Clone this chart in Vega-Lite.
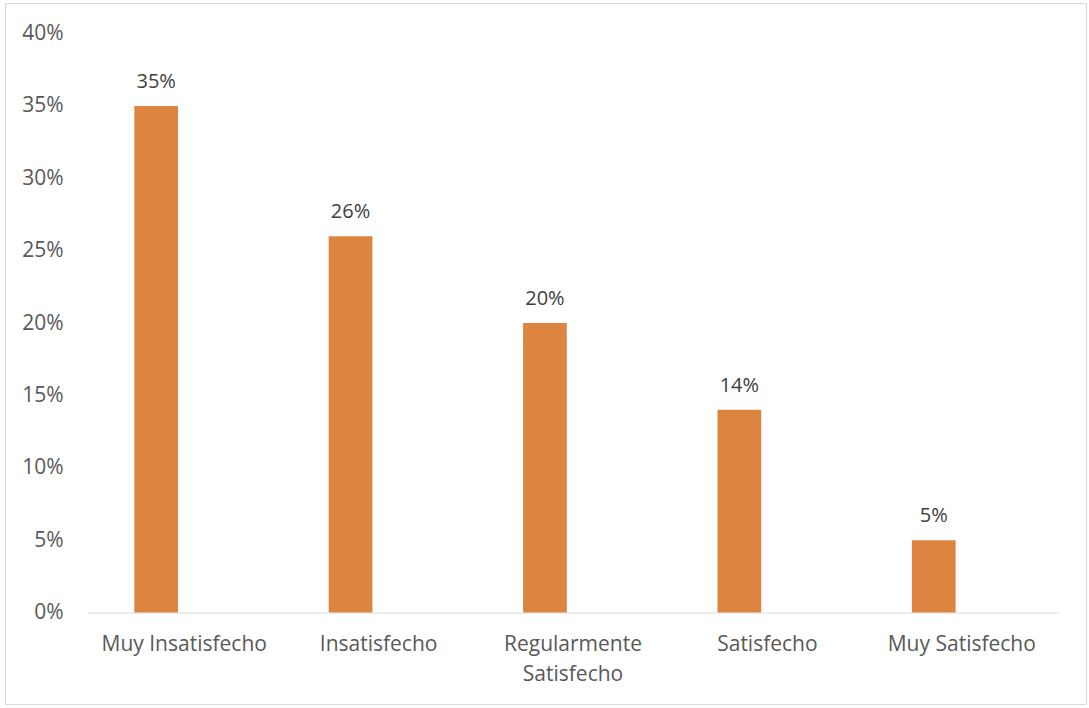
{
  "$schema": "https://vega.github.io/schema/vega-lite/v6.json",
  "autosize": {"type": "none"},
  "width": 1081,
  "height": 701,
  "padding": {"left": 5, "top": 3, "right": 3, "bottom": 4},
  "background": "white",
  "config": {
    "view": {"stroke": "#D9D9D9", "strokeWidth": 1},
    "font": "Open Sans"
  },
  "data": {
    "values": [
      {"categoria": "Muy Insatisfecho", "serie": "A", "valor": 0.35},
      {"categoria": "Insatisfecho", "serie": "A", "valor": 0.26},
      {"categoria": "Regularmente Satisfecho", "serie": "A", "valor": 0.20},
      {"categoria": "Satisfecho", "serie": "A", "valor": 0.14},
      {"categoria": "Muy Satisfecho", "serie": "A", "valor": 0.05}
    ]
  },
  "encoding": {
    "x": {
      "field": "categoria",
      "type": "nominal",
      "sort": null,
      "scale": {"range": [82, 1054], "paddingInner": 0, "paddingOuter": 0},
      "axis": {
        "title": null,
        "orient": "bottom",
        "offset": -91.5,
        "domainColor": "#D9D9D9",
        "domainWidth": 1,
        "ticks": false,
        "tickSize": 0,
        "labelAngle": 0,
        "labelFont": "Open Sans",
        "labelFontSize": 21,
        "labelColor": "#595959",
        "labelPadding": 21,
        "labelLineHeight": 30,
        "labelExpr": "datum.label == 'Regularmente Satisfecho' ? ['Regularmente', 'Satisfecho'] : datum.label"
      }
    },
    "xOffset": {
      "field": "serie",
      "type": "nominal",
      "scale": {"domain": ["A", "B"], "paddingInner": 0.221, "paddingOuter": 0.843}
    },
    "y": {
      "field": "valor",
      "type": "quantitative",
      "scale": {"domain": [0, 0.4], "range": [609.5, 30.5], "nice": false, "zero": true},
      "axis": {
        "title": null,
        "orient": "left",
        "offset": -58,
        "domain": false,
        "grid": false,
        "ticks": false,
        "tickSize": 0,
        "labelPadding": 0,
        "values": [0, 0.05, 0.1, 0.15, 0.2, 0.25, 0.3, 0.35, 0.4],
        "format": ".0%",
        "labelFont": "Open Sans",
        "labelFontSize": 21,
        "labelColor": "#595959"
      }
    }
  },
  "layer": [
    {
      "mark": {"type": "bar", "color": "#DD8441"}
    },
    {
      "mark": {"type": "text", "baseline": "alphabetic", "dy": -18, "fontSize": 20, "font": "Open Sans", "color": "#404040"},
      "encoding": {
        "text": {"field": "valor", "type": "quantitative", "format": ".0%"}
      }
    }
  ]
}
